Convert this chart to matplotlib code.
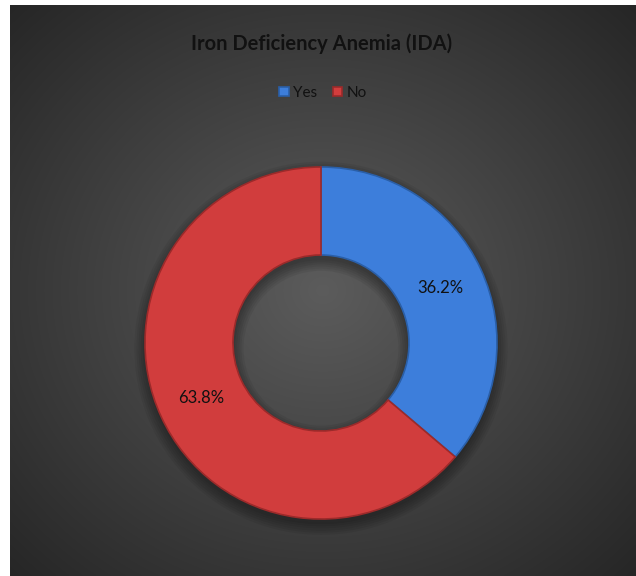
import numpy as np
import matplotlib
matplotlib.use('Agg')
import matplotlib.pyplot as plt
from matplotlib.patches import Wedge

plt.rcParams['font.family'] = ['Lato', 'DejaVu Sans']

# chart data
TITLE = 'Iron Deficiency Anemia (IDA)'
LABELS = ['Yes', 'No']
VALUES = [36.2, 63.8]
COLORS = ['#3d7edb', '#d13d3d']
EDGES = ['#2a5fa8', '#9c2a2a']

FIG = plt.figure(figsize=(6.36, 5.76), dpi=100)
FIG.patch.set_facecolor('white')

# dark radial gradient background of the chart area
BG = FIG.add_axes([10 / 636, 0, 626 / 636, 571 / 576])
GX, GY = np.meshgrid(np.linspace(-0.5, 0.5, 313), np.linspace(-0.5, 0.5, 286))
DIST = np.sqrt(GX ** 2 + GY ** 2) / np.sqrt(0.5)
SHADE = 0.36 - (0.36 - 0.15) * DIST
BG.imshow(np.dstack([SHADE, SHADE, SHADE]), aspect='auto',
          extent=(0, 1, 0, 1), interpolation='bilinear')
BG.set_axis_off()

# donut axes, square box around the ring
AX = FIG.add_axes([145 / 636, 57 / 576, 352 / 636, 352 / 576])
AX.set_facecolor('none')

# soft shadow under the ring
for k in range(6):
    AX.add_patch(Wedge((0, -0.03), 1.0 + 0.012 * k, 0, 360, width=0.5 + 0.024 * k,
                       facecolor='black', alpha=0.06, linewidth=0, clip_on=False))

WEDGES, TEXTS, PCTS = AX.pie(VALUES, colors=COLORS, startangle=90, counterclock=False,
                             autopct='%.1f%%', pctdistance=0.75,
                             wedgeprops=dict(width=0.5, linewidth=1.2),
                             textprops=dict(color='#111111', fontsize=12))
for wedge, edge in zip(WEDGES, EDGES):
    wedge.set_edgecolor(edge)
AX.set_xlim(-1, 1)
AX.set_ylim(-1, 1)
AX.set_axis_off()

FIG.text(322 / 636, 1 - 44 / 576, TITLE, ha='center', va='center',
         fontsize=14.5, fontweight='bold', color='#111111')
FIG.legend(WEDGES, LABELS, loc='center', bbox_to_anchor=(323 / 636, 1 - 93 / 576),
           ncol=2, frameon=False, fontsize=11, handlelength=0.6, handleheight=0.6,
           handletextpad=0.3, columnspacing=1.0, labelcolor='#111111')

FIG.savefig('out.png', dpi=100)
